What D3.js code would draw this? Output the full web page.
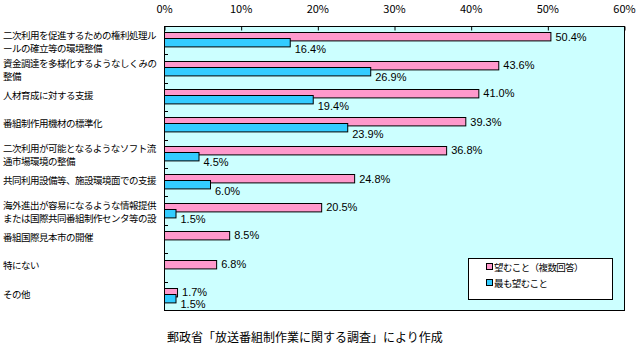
<!DOCTYPE html>
<html><head><meta charset="utf-8">
<script src="https://cdn.jsdelivr.net/npm/d3@7"></script>
<style>body{margin:0;background:#fff}svg{display:block}</style>
</head><body>
<script>
const categories = [
  ["二次利用を促進するための権利処理ル","ールの確立等の環境整備"],
  ["資金調達を多様化するようなしくみの","整備"],
  ["人材育成に対する支援"],
  ["番組制作用機材の標準化"],
  ["二次利用が可能となるようなソフト流","通市場環境の整備"],
  ["共同利用設備等、施設環境面での支援"],
  ["海外進出が容易になるような情報提供","または国際共同番組制作センタ等の設"],
  ["番組国際見本市の開催"],
  ["特にない"],
  ["その他"]
];
const seriesNames = ["望むこと（複数回答）","最も望むこと"];
const wantValues = [50.4, 43.6, 41.0, 39.3, 36.8, 24.8, 20.5, 8.5, 6.8, 1.7];
const mostValues = [16.4, 26.9, 19.4, 23.9, 4.5, 6.0, 1.5, null, null, 1.5];
const xTicks = [0,10,20,30,40,50,60];
const source = "郵政省「放送番組制作業に関する調査」により作成";

const W=639,H=345;
const L=164,R=624,T=26,B=310;
const pink="#FF99CC", blue="#33CCFF";
const svg=d3.select("body").append("svg").attr("width",W).attr("height",H);
const x=d3.scaleLinear().domain([0,60]).range([L,R]);
const y=d3.scaleBand().domain(d3.range(categories.length)).range([T,B]);
const bh=y.bandwidth();

svg.append("rect").attr("x",L+0.5).attr("y",T+0.5).attr("width",R-L).attr("height",B-T)
  .attr("fill","#CCFFFF").attr("stroke","#000");

// top axis
const ax=svg.append("g").attr("transform",`translate(0,${T+0.5})`)
  .call(d3.axisTop(x).tickValues(xTicks).tickSize(-4).tickFormat(d=>d+"%"));
ax.select(".domain").remove();
ax.selectAll(".tick line").attr("stroke","#000").attr("transform","translate(0.5,0)");
ax.selectAll(".tick text").attr("y",-14).attr("font-family","Noto Sans CJK JP").attr("font-size",11).attr("fill","#000");

// left ticks
svg.append("g").selectAll("line").data(d3.range(1,categories.length)).join("line")
  .attr("x1",L).attr("x2",L+4).attr("y1",d=>Math.round(y(d))+0.5).attr("y2",d=>Math.round(y(d))+0.5).attr("stroke","#000");

const font="Noto Sans CJK JP";
// category labels
const cl=svg.append("g");
categories.forEach((lines,i)=>{
  const c=y(i)+bh/2;
  const n=lines.length;
  lines.forEach((t,j)=>{
    const yy = n===1 ? c-2 : c+1+(j-0.5)*13;
    cl.append("text").attr("x",3).attr("y",yy).attr("dominant-baseline","central")
      .attr("font-family",font).attr("font-size",9.5).attr("letter-spacing",-0.5).text(t);
  });
});

const pinkOff=6.3, blueOff=12.3, barH=8.4;
// pink bars
svg.append("g").selectAll("rect").data(wantValues).join("rect")
  .attr("x",L+0.5).attr("y",(d,i)=>Math.round(y(i)+pinkOff)+0.5)
  .attr("width",d=>x(d)-L).attr("height",barH)
  .attr("fill",pink).attr("stroke","#000");
// blue bars
svg.append("g").selectAll("rect").data(mostValues.map((v,i)=>({v,i})).filter(d=>d.v!=null)).join("rect")
  .attr("x",L+0.5).attr("y",d=>Math.round(y(d.i)+blueOff)+0.5)
  .attr("width",d=>x(d.v)-L).attr("height",barH)
  .attr("fill",blue).attr("stroke","#000");

const lf="Liberation Sans";
svg.append("g").selectAll("text").data(wantValues).join("text")
  .attr("x",d=>x(d)+5).attr("y",(d,i)=>y(i)+pinkOff+barH/2)
  .attr("dominant-baseline","central").attr("font-family",lf).attr("font-size",11)
  .text(d=>d.toFixed(1)+"%");
svg.append("g").selectAll("text").data(mostValues.map((v,i)=>({v,i})).filter(d=>d.v!=null)).join("text")
  .attr("x",d=>x(d.v)+5).attr("y",d=>y(d.i)+blueOff+10.5)
  .attr("dominant-baseline","central").attr("font-family",lf).attr("font-size",11)
  .text(d=>d.v.toFixed(1)+"%");

// legend
const lg=svg.append("g");
lg.append("rect").attr("x",468.5).attr("y",258.5).attr("width",144).attr("height",41).attr("fill","#fff").attr("stroke","#000");
[pink,blue].forEach((c,i)=>{
  const yy=267+i*16;
  lg.append("rect").attr("x",486.5).attr("y",yy-3.5).attr("width",6).attr("height",6).attr("fill",c).attr("stroke","#000");
  lg.append("text").attr("x",494).attr("y",yy).attr("dominant-baseline","central")
    .attr("font-family",font).attr("font-size",9.5).attr("letter-spacing",-0.6).text(seriesNames[i]);
});

svg.append("text").attr("x",167).attr("y",336).attr("dominant-baseline","central")
  .attr("font-family",font).attr("font-size",12).text(source);
</script>
</body></html>
